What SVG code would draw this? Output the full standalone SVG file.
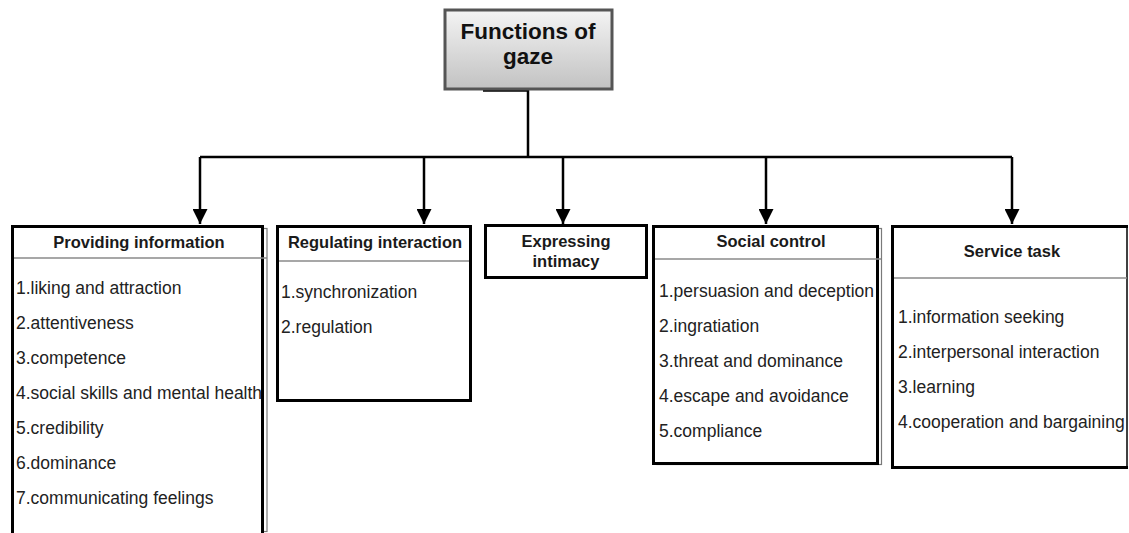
<svg xmlns="http://www.w3.org/2000/svg" width="1129" height="533" viewBox="0 0 1129 533">
  <style>
    .box { fill: #ffffff; stroke: #000000; stroke-width: 3; }
    .ghost { fill: none; stroke: #7a7a7a; stroke-width: 1.2; }
    .divider { stroke: #8a8a8a; stroke-width: 1.5; }
    .head { font-family: "Liberation Sans", Arial, sans-serif; font-weight: bold; font-size: 16.5px; fill: #1a1a1a; text-anchor: middle; }
    .item { font-family: "Liberation Sans", Arial, sans-serif; font-size: 17.5px; fill: #222222; }
    .title { font-family: "Liberation Sans", Arial, sans-serif; font-weight: bold; font-size: 22.5px; fill: #111111; text-anchor: middle; }
    .wire { fill: none; stroke: #000000; stroke-width: 2.5; }
  </style>
  <defs>
    <linearGradient id="titleFill" x1="0" y1="0" x2="0" y2="1">
      <stop offset="0" stop-color="#f4f4f4"/>
      <stop offset="1" stop-color="#c2c2c2"/>
    </linearGradient>
    <marker id="arrow" markerUnits="userSpaceOnUse" markerWidth="15" markerHeight="15" refX="15" refY="7.5" orient="auto">
      <path d="M0,0 L15,7.5 L0,15 Z" fill="#000000"/>
    </marker>
  </defs>

  <rect width="1129" height="533" fill="#ffffff"/>

  <!-- connectors -->
  <g id="connectors">
    <path class="wire" d="M483,90.5 H528 V157"/>
    <path class="wire" d="M200,157 H1012"/>
    <path class="wire" d="M200,157 V224" marker-end="url(#arrow)"/>
    <path class="wire" d="M424,157 V224" marker-end="url(#arrow)"/>
    <path class="wire" d="M563,157 V224" marker-end="url(#arrow)"/>
    <path class="wire" d="M766,157 V224" marker-end="url(#arrow)"/>
    <path class="wire" d="M1012,157 V224" marker-end="url(#arrow)"/>
  </g>

  <!-- root -->
  <g id="functions-of-gaze">
    <rect x="445" y="10" width="167" height="79" fill="url(#titleFill)" stroke="#555555" stroke-width="3"/>
    <text class="title" x="528" y="39">Functions of</text>
    <text class="title" x="528" y="64">gaze</text>
  </g>

  <!-- providing information -->
  <g id="providing-information">
    <rect class="ghost" x="16" y="228.5" width="251" height="303"/>
    <rect class="box" x="12.5" y="226.5" width="250" height="320"/>
    <line class="divider" x1="14" y1="258" x2="267" y2="258"/>
    <text class="head" x="139" y="248">Providing information</text>
    <text class="item" x="16" y="294">1.liking and attraction</text>
    <text class="item" x="16" y="329">2.attentiveness</text>
    <text class="item" x="16" y="364">3.competence</text>
    <text class="item" x="16" y="399">4.social skills and mental health</text>
    <text class="item" x="16" y="434">5.credibility</text>
    <text class="item" x="16" y="469">6.dominance</text>
    <text class="item" x="16" y="504">7.communicating feelings</text>
  </g>

  <!-- regulating interaction -->
  <g id="regulating-interaction">
    <rect class="box" x="277.5" y="226.5" width="193" height="174"/>
    <line class="divider" x1="279" y1="261" x2="469" y2="261"/>
    <text class="head" x="375" y="248">Regulating interaction</text>
    <text class="item" x="281" y="298">1.synchronization</text>
    <text class="item" x="281" y="333">2.regulation</text>
  </g>

  <!-- expressing intimacy -->
  <g id="expressing-intimacy">
    <rect class="box" x="485.5" y="225.5" width="161" height="52"/>
    <text class="head" x="566" y="247">Expressing</text>
    <text class="head" x="566" y="267">intimacy</text>
  </g>

  <!-- social control -->
  <g id="social-control">
    <rect class="ghost" x="657" y="228.5" width="224.5" height="236"/>
    <rect class="box" x="653.5" y="226.5" width="224" height="237"/>
    <line class="divider" x1="655" y1="259" x2="881" y2="259"/>
    <text class="head" x="771" y="247">Social control</text>
    <text class="item" x="659" y="297">1.persuasion and deception</text>
    <text class="item" x="659" y="332">2.ingratiation</text>
    <text class="item" x="659" y="367">3.threat and dominance</text>
    <text class="item" x="659" y="402">4.escape and avoidance</text>
    <text class="item" x="659" y="437">5.compliance</text>
  </g>

  <!-- service task -->
  <g id="service-task">
    <rect x="892" y="226" width="236" height="242" fill="#ffffff"/>
    <path d="M1128,226.5 H892.5 V467.5 H1128" fill="none" stroke="#000000" stroke-width="3"/>
    <line x1="1127" y1="226" x2="1127" y2="469" stroke="#000000" stroke-width="1.5"/>
    <line class="divider" x1="894" y1="278" x2="1127" y2="278"/>
    <text class="head" x="1012" y="257">Service task</text>
    <text class="item" x="898" y="323">1.information seeking</text>
    <text class="item" x="898" y="358">2.interpersonal interaction</text>
    <text class="item" x="898" y="393">3.learning</text>
    <text class="item" x="898" y="428">4.cooperation and bargaining</text>
  </g>
</svg>
